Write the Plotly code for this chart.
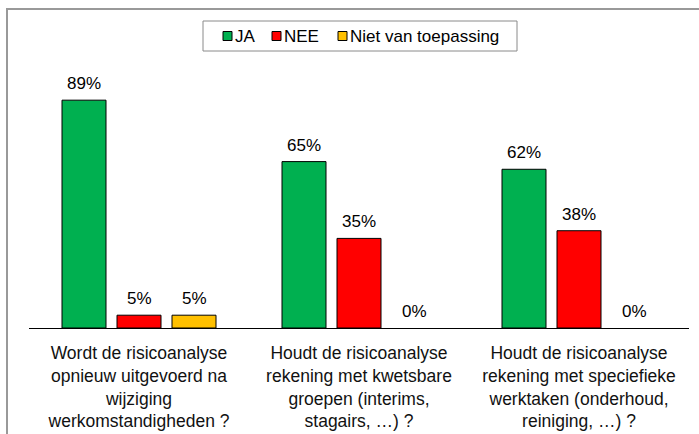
import plotly.graph_objects as go

categories = [
    "Wordt de risicoanalyse<br>opnieuw uitgevoerd na<br>wijziging<br>werkomstandigheden ?",
    "Houdt de risicoanalyse<br>rekening met kwetsbare<br>groepen (interims,<br>stagairs, …) ?",
    "Houdt de risicoanalyse<br>rekening met speciefieke<br>werktaken (onderhoud,<br>reiniging, …) ?",
]
series_names = ["JA", "NEE", "Niet van toepassing"]
ja = [89, 65, 62]
nee = [5, 35, 38]
nvt = [5, 0, 0]
colors = ["#00B050", "#FF0000", "#FFC000"]
series = [ja, nee, nvt]

W, H = 699, 434
ml, mr, mt, mb = 29, 10, 72, 106
pw, ph = W - ml - mr, H - mt - mb

def px(x):
    return (x - ml) / pw

def py(y):
    return (H - mb - y) / ph

FONT = "Liberation Sans, Arial, Helvetica, sans-serif"

fig = go.Figure()
annotations = []
slot = 55  # pixel offset between bars in a group
for i, (name, vals, col) in enumerate(zip(series_names, series, colors)):
    fig.add_trace(go.Bar(
        name=name, x=categories, y=vals,
        marker=dict(color=col,
                    line=dict(color="black", width=[1 if v > 0 else 0 for v in vals])),
        showlegend=False,
    ))
    for c, v in zip(categories, vals):
        annotations.append(dict(
            x=c, y=v, xref="x", yref="y", text=f"{v}%", showarrow=False,
            xanchor="center", yanchor="bottom", xshift=(i - 1) * slot, yshift=5,
            font=dict(size=17, color="black", family=FONT),
        ))

# custom legend (box, swatches, labels)
legend_x = [223, 272, 338]
shapes = [
    dict(type="rect", xref="paper", yref="paper",
         x0=px(7), x1=px(710), y0=py(450), y1=py(9),
         line=dict(color="#999999", width=2), layer="below"),
    dict(type="rect", xref="paper", yref="paper",
         x0=px(203), x1=px(517), y0=py(51), y1=py(21),
         line=dict(color="#8a8a8a", width=1), fillcolor="white", layer="below"),
]
for name, col, lx in zip(series_names, colors, legend_x):
    shapes.append(dict(type="rect", xref="paper", yref="paper",
                       x0=px(lx), x1=px(lx + 9), y0=py(40.5), y1=py(31.5),
                       line=dict(color="black", width=1), fillcolor=col))
    annotations.append(dict(x=px(lx + 10), y=py(36), xref="paper", yref="paper",
                            text=name, showarrow=False, xanchor="left", yanchor="middle",
                            font=dict(size=17, color="black", family=FONT)))

fig.update_layout(
    width=W, height=H,
    margin=dict(l=ml, r=mr, t=mt, b=mb, autoexpand=False),
    paper_bgcolor="white", plot_bgcolor="white",
    font=dict(family=FONT, color="black"),
    barmode="group", bargap=0.25, bargroupgap=0.2,
    showlegend=False,
    xaxis=dict(showline=True, linecolor="black", linewidth=1, ticks="",
               tickfont=dict(size=17.5, color="#111111"), showgrid=False,
               automargin=False, ticklabelstandoff=9),
    yaxis=dict(range=[0, 100], visible=False, showgrid=False),
    shapes=shapes,
    annotations=annotations,
)
fig.write_html("out.html", config={"displayModeBar": False},
               post_script="document.body.style.margin='0';")
